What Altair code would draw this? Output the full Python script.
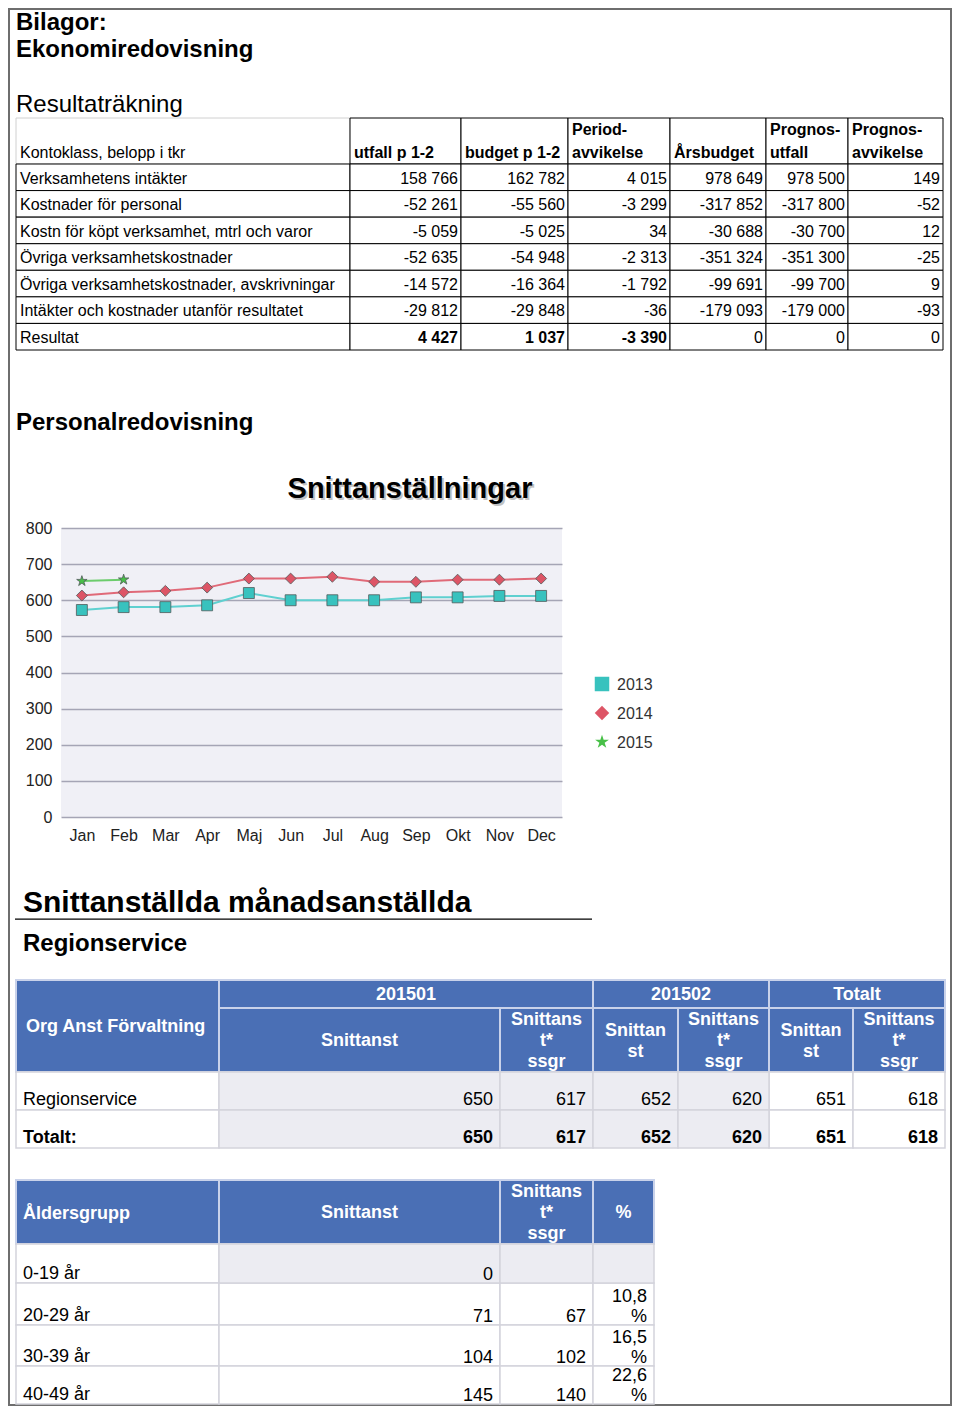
import altair as alt
import pandas as pd

# ---------------- data ----------------
res_header = ["Kontoklass, belopp i tkr", "utfall p 1-2", "budget p 1-2", "Period-\navvikelse",
              "Årsbudget", "Prognos-\nutfall", "Prognos-\navvikelse"]
res_rows = ["Verksamhetens intäkter", "Kostnader för personal",
            "Kostn för köpt verksamhet, mtrl och varor", "Övriga verksamhetskostnader",
            "Övriga verksamhetskostnader, avskrivningar", "Intäkter och kostnader utanför resultatet",
            "Resultat"]
utfall = [158766, -52261, -5059, -52635, -14572, -29812, 4427]
budget = [162782, -55560, -5025, -54948, -16364, -29848, 1037]
period_avv = [4015, -3299, 34, -2313, -1792, -36, -3390]
arsbudget = [978649, -317852, -30688, -351324, -99691, -179093, 0]
prognos_utfall = [978500, -317800, -30700, -351300, -99700, -179000, 0]
prognos_avv = [149, -52, 12, -25, 9, -93, 0]

months = ["Jan", "Feb", "Mar", "Apr", "Maj", "Jun", "Jul", "Aug", "Sep", "Okt", "Nov", "Dec"]
years = ["2013", "2014", "2015"]
s2013 = [573, 581, 581, 586, 620, 600, 600, 600, 608, 608, 612, 612]
s2014 = [613, 622, 626, 635, 660, 660, 665, 651, 651, 657, 657, 660]
s2015 = [653, 657]

org_groups = ["201501", "201502", "Totalt"]
org_sub = ["Snittanst", "Snittans\nt*\nssgr", "Snittan\nst", "Snittans\nt*\nssgr", "Snittan\nst", "Snittans\nt*\nssgr"]
org_rows = ["Regionservice", "Totalt:"]
org_regionservice = [650, 617, 652, 620, 651, 618]
org_totalt = [650, 617, 652, 620, 651, 618]

age_header = ["Åldersgrupp", "Snittanst", "Snittans\nt*\nssgr", "%"]
age_groups = ["0-19 år", "20-29 år", "30-39 år", "40-49 år"]
age_snittanst = [0, 71, 104, 145]
age_ssgr = [None, 67, 102, 140]
age_pct = [None, 10.8, 16.5, 22.6]

# ---------------- layout / style ----------------
FONT = "Liberation Sans"
BORDER = "#6e6e6e"
BLUE = "#4a6fb5"
LIGHT = "#ececf2"
# line chart plot area (page pixels)
PX, PY, PW, PH = 61, 528, 501, 289
LEFT, RIGHT = 8, 952            # outer frame, page pixels
SW = RIGHT - PX                 # width of the pixel sections (origin aligned with chart plot)
line_colors = ["#5fd0d0", "#e06a78", "#6ccc6c"]
marker_colors = ["#38c2be", "#dd5566", "#48c048"]
STAR = ("M0,-1L0.2245,-0.309L0.951,-0.309L0.363,0.118L0.588,0.809L0,0.382"
        "L-0.588,0.809L-0.363,0.118L-0.951,-0.309L-0.2245,-0.309Z")
shapes = ["square", "diamond", STAR]


def fmt(n):
    s = f"{abs(n):,}".replace(",", " ")
    return ("-" + s) if n < 0 else s


class Section:
    """A block of the page whose x/y scales map page pixels onto the view."""

    def __init__(self, top, height):
        self.top = top
        self.h = height
        self.xs = alt.Scale(domain=[PX, PX + SW], nice=False, zero=False)
        self.ys = alt.Scale(domain=[top, top + height], nice=False, zero=False, reverse=True)
        self.layers = []

    def rects(self, boxes, fill, stroke=None, sw=1):
        df = pd.DataFrame([{"x": x0, "x2": x1, "y": y0, "y2": y1} for (x0, y0, x1, y1) in boxes])
        kw = dict(fill=fill)
        if stroke:
            kw.update(stroke=stroke, strokeWidth=sw)
        else:
            kw.update(strokeWidth=0)
        self.layers.append(
            alt.Chart(df).mark_rect(**kw).encode(
                x=alt.X("x:Q", scale=self.xs, axis=None), x2="x2:Q",
                y=alt.Y("y:Q", scale=self.ys, axis=None), y2="y2:Q"))

    def text(self, items, size, weight="normal", align="left", color="#000"):
        items = [it for it in items if it[2] != ""]
        df = pd.DataFrame([{"x": x, "y": y, "t": t} for (x, y, t) in items])
        self.layers.append(
            alt.Chart(df).mark_text(align=align, baseline="alphabetic", fontSize=size,
                                    fontWeight=weight, color=color, font=FONT).encode(
                x=alt.X("x:Q", scale=self.xs, axis=None),
                y=alt.Y("y:Q", scale=self.ys, axis=None),
                text="t:N"))

    def borders(self, top=False, bottom=False):
        b = [(LEFT, self.top, LEFT + 2, self.top + self.h), (RIGHT - 2, self.top, RIGHT, self.top + self.h)]
        if top:
            b.append((LEFT, self.top, RIGHT, self.top + 2))
        if bottom:
            b.append((LEFT, self.top + self.h - 2, RIGHT, self.top + self.h))
        self.rects(b, BORDER)

    def chart(self):
        return alt.layer(*self.layers).properties(width=SW, height=self.h)


def lines_bottom(x, y, label, lh):
    parts = label.split("\n")
    n = len(parts)
    return [(x, y - (n - 1 - k) * lh, p) for k, p in enumerate(parts)]


def lines_center(x, yc, label, lh, size):
    parts = label.split("\n")
    n = len(parts)
    off = size * 0.36
    return [(x, yc + (k - (n - 1) / 2) * lh + off, p) for k, p in enumerate(parts)]


# ================= Section 1 : header + Resultaträkning =================
S2_TOP, S2_BOT = 455, 860
s1 = Section(8, S2_TOP - 8)
s1.borders(top=True)
s1.text([(16, 30, "Bilagor:"), (16, 57, "Ekonomiredovisning")], 24, "bold")
s1.text([(16, 112, "Resultaträkning")], 24)
s1.text([(16, 430, "Personalredovisning")], 24, "bold")

t1_cols = [16, 350, 461, 568, 670, 766, 848, 943]
t1_top, t1_head = 118, 164
t1_rows = [164 + i * (350 - 164) / 7 for i in range(8)]

s1.rects([(t1_cols[0], t1_top, t1_cols[1], t1_head)], "white", "#d0d0d0", 1)
s1.rects([(t1_cols[i], t1_top, t1_cols[i + 1], t1_head) for i in range(1, 7)], "white", "#000", 1)
s1.rects([(t1_cols[i], t1_rows[r], t1_cols[i + 1], t1_rows[r + 1])
          for r in range(7) for i in range(7)], "white", "#000", 1)

s1.text([(20, 158, res_header[0])], 16)
hdr = []
for i in range(1, 7):
    hdr += lines_bottom(t1_cols[i] + 4, 158, res_header[i], 23)
s1.text(hdr, 16, "bold")

s1.text([(20, t1_rows[r + 1] - 7, res_rows[r]) for r in range(7)], 16)
cols_vals = [utfall, budget, period_avv, arsbudget, prognos_utfall, prognos_avv]
normal, bold = [], []
for c, vals in enumerate(cols_vals):
    for r, v in enumerate(vals):
        item = (t1_cols[c + 2] - 3, t1_rows[r + 1] - 7, fmt(v))
        (bold if (r == 6 and c < 3) else normal).append(item)
s1.text(normal, 16, align="right")
s1.text(bold, 16, "bold", align="right")

sec1 = s1.chart()

# ================= Section 2 : line chart =================
one = pd.DataFrame({"a": [0]})


def vrect(x0, y0, x1, y1):
    return alt.Chart(one).mark_rect(fill=BORDER, strokeWidth=0).encode(
        x=alt.value(x0 - PX), x2=alt.value(x1 - PX), y=alt.value(y0 - PY), y2=alt.value(y1 - PY))


def vtext(x, y, t, size, weight="normal", align="left", color="#000", opacity=1.0):
    return alt.Chart(one).mark_text(fontSize=size, fontWeight=weight, font=FONT, align=align,
                                    baseline="alphabetic", color=color, opacity=opacity).encode(
        x=alt.value(x - PX), y=alt.value(y - PY), text=alt.value(t))


frame_layers = [
    vrect(LEFT, S2_TOP, LEFT + 2, S2_BOT),
    vrect(RIGHT - 2, S2_TOP, RIGHT, S2_BOT),
    vtext(410 + 2, 498 + 2, "Snittanställningar", 29, "bold", "center", "#9a9a9a", 0.6),
    vtext(410, 498, "Snittanställningar", 29, "bold", "center"),
]

legend_layers = []
for i, yr in enumerate(years):
    yc = 684 + 29 * i
    legend_layers.append(
        alt.Chart(one).mark_point(filled=True, shape=shapes[i], size=210, color=marker_colors[i],
                                  opacity=1, strokeWidth=0).encode(
            x=alt.value(602 - PX), y=alt.value(yc - PY)))
    legend_layers.append(vtext(617, yc + 6, yr, 16, color="#333"))

recs = []
for yr, ser in zip(years, [s2013, s2014, s2015]):
    for m, v in zip(months, ser):
        recs.append({"month": m, "year": yr, "value": v})
ldf = pd.DataFrame(recs)

xenc = alt.X("month:N", sort=months, scale=alt.Scale(type="point", padding=0.5, domain=months),
             axis=alt.Axis(title=None, labelAngle=0, ticks=False, tickSize=0, domain=False, grid=False,
                           labelFontSize=16, labelFont=FONT, labelColor="#222", labelPadding=10))
yenc = alt.Y("value:Q", scale=alt.Scale(domain=[0, 800], nice=False, zero=True),
             axis=alt.Axis(title=None, values=list(range(0, 801, 100)), ticks=False, tickSize=0,
                           domain=False, labelFontSize=16, labelFont=FONT, labelColor="#222",
                           labelPadding=9, gridColor="#a5a5b5", gridWidth=1.5))

line_layer = alt.Chart(ldf).mark_line(strokeWidth=2).encode(
    x=xenc, y=yenc,
    stroke=alt.Stroke("year:N", scale=alt.Scale(domain=years, range=line_colors), legend=None))
point_layer = alt.Chart(ldf).mark_point(filled=True, size=120, stroke="#505a5a", strokeWidth=0.8,
                                        opacity=1).encode(
    x=xenc, y=yenc,
    color=alt.Color("year:N", scale=alt.Scale(domain=years, range=marker_colors), legend=None),
    shape=alt.Shape("year:N", scale=alt.Scale(domain=years, range=shapes), legend=None))

sec2 = alt.layer(*frame_layers, line_layer, point_layer, *legend_layers).properties(
    width=PW, height=PH, view=alt.ViewBackground(fill="#f0f0f6", stroke="transparent", strokeWidth=0))

# ================= Section 3 : tables =================
S3_BOT = 1406
s3 = Section(S2_BOT, S3_BOT - S2_BOT)
s3.borders(bottom=True)
s3.text([(23, 912, "Snittanställda månadsanställda")], 30, "bold")
s3.rects([(15, 918.5, 592, 919.8)], "#000")
s3.text([(23, 951, "Regionservice")], 24, "bold")

# table 2
t2_cols = [16, 219, 500, 593, 678, 769, 853, 945]
t2_groups = [(219, 593), (593, 769), (769, 945)]
HA, HB, HC = 980, 1008, 1072
t2_rows = [1072, 1110, 1148]
sep = "#c9d2ea"
s3.rects([(16, HA, 219, HC)] + [(a, HA, b, HB) for a, b in t2_groups] +
         [(t2_cols[i], HB, t2_cols[i + 1], HC) for i in range(1, 7)], BLUE, sep, 2)
s3.text([(26, 1032, "Org Anst Förvaltning")], 18, "bold", color="white")
s3.text([((a + b) / 2, 1000, g) for (a, b), g in zip(t2_groups, org_groups)], 18, "bold",
        align="center", color="white")
sub = []
for i in range(1, 7):
    sub += lines_center((t2_cols[i] + t2_cols[i + 1]) / 2, 1040, org_sub[i - 1], 21, 18)
s3.text(sub, 18, "bold", align="center", color="white")

fills = ["white", LIGHT, LIGHT, LIGHT, LIGHT, "white", "white"]
for fc in ["white", LIGHT]:
    s3.rects([(t2_cols[i], t2_rows[r], t2_cols[i + 1], t2_rows[r + 1])
              for r in range(2) for i in range(7) if fills[i] == fc], fc, "#d3d3db", 1.5)
s3.text([(23, t2_rows[1] - 5, org_rows[0])], 18)
s3.text([(23, t2_rows[2] - 5, org_rows[1])], 18, "bold")
s3.text([(t2_cols[i + 2] - 7, t2_rows[1] - 5, fmt(v)) for i, v in enumerate(org_regionservice)], 18,
        align="right")
s3.text([(t2_cols[i + 2] - 7, t2_rows[2] - 5, fmt(v)) for i, v in enumerate(org_totalt)], 18, "bold",
        align="right")

# table 3
t3_cols = [16, 219, 500, 593, 654]
T3A, T3B = 1180, 1244
t3_rows = [1244, 1283, 1325, 1366, 1404]
s3.rects([(t3_cols[i], T3A, t3_cols[i + 1], T3B) for i in range(4)], BLUE, sep, 2)
s3.text([(23, 1218.5, age_header[0])], 18, "bold", color="white")
h3 = []
for i in range(1, 4):
    h3 += lines_center((t3_cols[i] + t3_cols[i + 1]) / 2, 1212, age_header[i], 21, 18)
s3.text(h3, 18, "bold", align="center", color="white")

cells_w, cells_g = [], []
for r in range(4):
    for i in range(4):
        box = (t3_cols[i], t3_rows[r], t3_cols[i + 1], t3_rows[r + 1])
        (cells_g if (r == 0 and i > 0) else cells_w).append(box)
s3.rects(cells_w, "white", "#d3d3db", 1.5)
s3.rects(cells_g, LIGHT, "#d3d3db", 1.5)

s3.text([(23, t3_rows[r + 1] - 4, g) for r, g in enumerate(age_groups)], 18)
vals3 = []
for r in range(4):
    yb = t3_rows[r + 1] - 3
    vals3.append((t3_cols[2] - 7, yb, fmt(age_snittanst[r])))
    if age_ssgr[r] is not None:
        vals3.append((t3_cols[3] - 7, yb, fmt(age_ssgr[r])))
    if age_pct[r] is not None:
        vals3.append((t3_cols[4] - 7, yb - 20, f"{age_pct[r]:.1f}".replace(".", ",")))
        vals3.append((t3_cols[4] - 7, yb, "%"))
s3.text(vals3, 18, align="right")

sec3 = s3.chart()

chart = alt.vconcat(sec1, sec2, sec3, spacing=0).properties(padding=0).configure(
    font=FONT).configure_view(stroke="transparent", strokeWidth=0)

chart.save("out.html", embed_options={"renderer": "svg", "actions": False})
